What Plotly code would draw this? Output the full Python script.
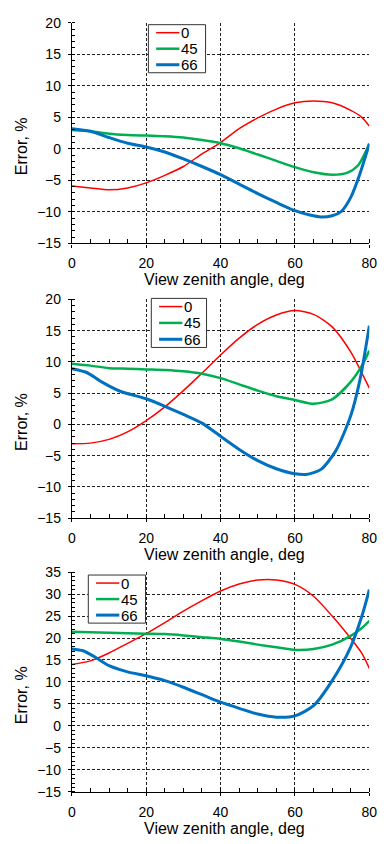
import plotly.graph_objects as go

series_names = ["0", "45", "66"]

# Panel 1: view zenith angle (deg) and error (%)
p1_0_x = [0, 5, 10, 15, 20, 25, 30, 35, 40, 45, 50, 55, 60, 65, 70, 75, 78, 80]
p1_0_y = [-5.9, -6.2, -6.5, -6.2, -5.4, -4.2, -2.8, -0.8, 1.0, 3.2, 4.9, 6.3, 7.3, 7.6, 7.3, 6.1, 5.0, 3.6]
p1_45_x = [0, 5, 10, 15, 20, 25, 30, 35, 40, 45, 50, 55, 60, 65, 70, 74, 77, 80]
p1_45_y = [3.0, 2.8, 2.4, 2.2, 2.1, 2.0, 1.8, 1.4, 0.9, 0.1, -0.9, -1.9, -2.9, -3.7, -4.1, -3.8, -2.6, 0.8]
p1_66_x = [0, 5, 10, 15, 20, 25, 30, 35, 40, 45, 50, 55, 60, 64, 67, 70, 72.5, 75, 77.5, 80]
p1_66_y = [3.2, 2.8, 1.8, 0.9, 0.3, -0.5, -1.6, -2.8, -4.1, -5.6, -7.1, -8.5, -9.8, -10.5, -10.8, -10.6, -9.9, -7.7, -3.9, 0.8]

# Panel 2
p2_0_x = [0, 5, 10, 15, 20, 25, 30, 35, 40, 45, 50, 55, 60, 65, 70, 75, 78, 80]
p2_0_y = [-3.1, -3.0, -2.4, -1.2, 0.6, 2.8, 5.4, 8.2, 11.1, 13.8, 16.0, 17.5, 18.2, 17.6, 15.6, 11.6, 8.2, 5.8]
p2_45_x = [0, 5, 10, 15, 20, 25, 30, 35, 40, 45, 50, 55, 60, 65, 70, 75, 78, 80]
p2_45_y = [9.7, 9.4, 9.0, 8.9, 8.8, 8.7, 8.5, 8.1, 7.4, 6.4, 5.4, 4.5, 3.9, 3.3, 4.0, 6.8, 9.4, 11.8]
p2_66_x = [0, 4, 8, 13, 20, 25, 30, 35, 40, 45, 50, 55, 60, 63, 67, 71, 75, 77.5, 80]
p2_66_y = [8.9, 8.3, 6.8, 5.3, 4.1, 2.9, 1.6, 0.2, -1.9, -4.0, -5.8, -7.1, -7.9, -8.0, -7.2, -4.2, 1.4, 7.2, 15.8]

# Panel 3
p3_0_x = [0, 5, 10, 15, 20, 25, 30, 35, 40, 45, 50, 55, 60, 65, 70, 75, 78, 80]
p3_0_y = [14.0, 14.8, 16.6, 18.8, 21.0, 23.5, 26.1, 28.5, 30.7, 32.3, 33.2, 33.2, 32.2, 29.5, 25.0, 19.9, 16.5, 13.1]
p3_45_x = [0, 5, 10, 15, 20, 25, 30, 35, 40, 45, 50, 55, 60, 65, 70, 75, 78, 80]
p3_45_y = [21.4, 21.3, 21.2, 21.1, 21.0, 20.9, 20.6, 20.2, 19.8, 19.2, 18.5, 17.9, 17.3, 17.5, 18.5, 20.5, 22.3, 23.9]
p3_66_x = [0, 3, 6, 10, 15, 20, 25, 30, 35, 40, 45, 50, 55, 60, 65, 70, 75, 78, 80]
p3_66_y = [17.5, 17.1, 15.8, 13.7, 12.3, 11.4, 10.3, 8.8, 7.1, 5.4, 4.0, 2.7, 2.0, 2.3, 4.6, 10.3, 18.0, 25.0, 31.0]

x_ticks = [0, 20, 40, 60, 80]
y_ranges = [[-15, 20], [-15, 20], [-15, 35]]

colors = ["#ff0000", "#00b050", "#0070c0"]
widths = [1.5, 2.5, 3]

W, H = 388, 844
FONT = "Arial, 'Liberation Sans', sans-serif"

# Plot-area pixel boxes (top, bottom) for each panel
x_left, x_right = 70, 377
panels_px = [(15, 240), (297, 520), (575, 799)]

panels = [
    [(p1_0_x, p1_0_y), (p1_45_x, p1_45_y), (p1_66_x, p1_66_y)],
    [(p2_0_x, p2_0_y), (p2_45_x, p2_45_y), (p2_66_x, p2_66_y)],
    [(p3_0_x, p3_0_y), (p3_45_x, p3_45_y), (p3_66_x, p3_66_y)],
]
# Legend boxes: (left, top, right, bottom) in pixels
legend_boxes = [(149, 17, 208, 66), (152, 296, 209, 346), (87, 578, 146, 627)]


def px(x):
    return x / W


def py(y):
    return 1 - y / H


fig = go.Figure()
layout = dict(
    width=W, height=H,
    margin=dict(l=0, r=0, t=0, b=0),
    paper_bgcolor="white", plot_bgcolor="white",
    font=dict(family=FONT, size=14, color="black"),
    showlegend=False,
    annotations=[],
    shapes=[],
)

for i, (series, (top, bot), box) in enumerate(zip(panels, panels_px, legend_boxes)):
    n = "" if i == 0 else str(i + 1)
    for (xs, ys), name, c, w in zip(series, series_names, colors, widths):
        fig.add_trace(go.Scatter(
            x=xs, y=ys, name=name, mode="lines",
            line=dict(color=c, width=w, shape="spline", smoothing=0.7),
            xaxis="x" + n, yaxis="y" + n,
        ))
    grid = dict(showgrid=True, gridcolor="#222", gridwidth=1, griddash="3px,2px",
                zeroline=False, showline=True, linecolor="black", linewidth=1.2,
                ticks="outside", ticklen=3, tickcolor="black",
                tickfont=dict(size=14, family=FONT))
    layout["xaxis" + n] = dict(
        domain=[px(x_left), px(x_right)], range=[0, 80], anchor="y" + n,
        tickvals=x_ticks, ticklabelstandoff=4,
        minor=dict(dtick=5, ticks="inside", ticklen=4, tickcolor="black", showgrid=False),
        **grid,
    )
    lo, hi = y_ranges[i]
    layout["yaxis" + n] = dict(
        domain=[py(bot), py(top)], range=[lo, hi], anchor="x" + n,
        dtick=5, ticklabelstandoff=4,
        minor=dict(dtick=1, ticks="inside", ticklen=3, tickcolor="black", showgrid=False),
        **grid,
    )

    # Legend: framed box with a short line sample and label per series
    l, t, r, b = box
    layout["shapes"].append(dict(
        type="rect", xref="paper", yref="paper",
        x0=px(l), x1=px(r), y0=py(b), y1=py(t),
        line=dict(color="#333", width=1), fillcolor="white", layer="above",
    ))
    row_h = (b - t) / 3
    for k, (name, c, w) in enumerate(zip(series_names, colors, widths)):
        yc = t + row_h * (k + 0.5)
        layout["shapes"].append(dict(
            type="line", xref="paper", yref="paper",
            x0=px(l + 8), x1=px(l + 32), y0=py(yc), y1=py(yc),
            line=dict(color=c, width=w), layer="above",
        ))
        layout["annotations"].append(dict(
            text=name, xref="paper", yref="paper", x=px(l + 33), y=py(yc),
            xanchor="left", yanchor="middle", showarrow=False,
            font=dict(size=15, family=FONT), borderpad=0,
        ))

    mid = (top + bot) / 2
    layout["annotations"].append(dict(
        text="Error, %", xref="paper", yref="paper", x=px(18), y=py(mid + 13),
        showarrow=False, textangle=-90, font=dict(size=16, family=FONT),
        xanchor="center", yanchor="middle",
    ))
    layout["annotations"].append(dict(
        text="View zenith angle, deg", xref="paper", yref="paper", x=px(228),
        y=py(bot + 37), showarrow=False, font=dict(size=16, family=FONT),
        xanchor="center", yanchor="middle",
    ))

fig.update_layout(**layout)
fig.write_html("out.html")
